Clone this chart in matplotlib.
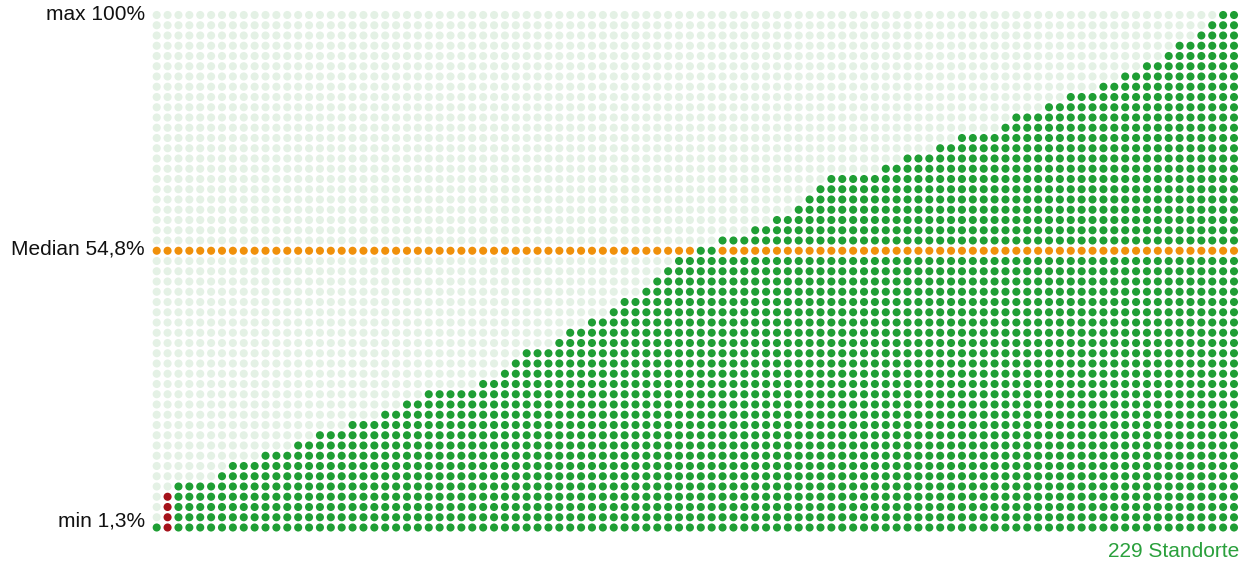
#!/usr/bin/env python3

import matplotlib
matplotlib.use("Agg")
import matplotlib.pyplot as plt

# oberste gefuellte Zeile je Spalte (0 = unterste Zeile, 50 = 100%)
col_tops = [0, 3, 4, 4, 4, 4, 5, 6, 6, 6,
            7, 7, 7, 8, 8, 9, 9, 9, 10, 10,
            10, 11, 11, 12, 12, 13, 13, 13, 13, 13,
            14, 14, 15, 16, 17, 17, 17, 18, 19, 19,
            20, 20, 21, 22, 22, 23, 24, 25, 26, 26,
            27, 27, 28, 28, 28, 29, 29, 30, 30, 31,
            32, 33, 34, 34, 34, 34, 34, 35, 35, 36,
            36, 36, 37, 37, 38, 38, 38, 38, 39, 40,
            40, 40, 41, 41, 42, 42, 42, 43, 43, 44,
            44, 45, 45, 46, 47, 47, 48, 49, 50, 50]
highlight_col = 1
n_rows = 51
median_row = 27

left_labels = ["max 100%", "Median 54,8%", "min 1,3%"]
label_rows = [50, 27.2, 0.6]
count_label = "229 Standorte"

GREEN = "#1f9e34"
LIGHT = "#e4f1e5"
ORANGE = "#f0900a"
RED = "#a5121b"

n_cols = len(col_tops)

W, H = 1239, 564
x0, x1 = 156.7, 1234.0
y0, y1 = 527.5, 15.0
sx = (x1 - x0) / (n_cols - 1)
sy = (y0 - y1) / (n_rows - 1)

fig = plt.figure(figsize=(W / 100, H / 100), dpi=100)
left = (x0 - sx / 2) / W
width = (x1 - x0 + sx) / W
bottom = (H - (y0 + sy / 2)) / H
height = (y0 - y1 + sy) / H
ax = fig.add_axes([left, bottom, width, height])
ax.set_xlim(-0.5, n_cols - 0.5)
ax.set_ylim(-0.5, n_rows - 0.5)
ax.axis("off")

xs, ys, cs = [], [], []
for c, top in enumerate(col_tops):
    for r in range(n_rows):
        if r <= top:
            color = RED if c == highlight_col else GREEN
            if r == median_row and top != median_row:
                color = ORANGE
        else:
            color = ORANGE if r == median_row else LIGHT
        xs.append(c)
        ys.append(r)
        cs.append(color)

ax.scatter(xs, ys, s=34, c=cs, linewidths=0, clip_on=False)

for txt, row in zip(left_labels, label_rows):
    ax.text(-1.1, row, txt, ha="right", va="center", fontsize=15,
            family="Liberation Sans", color="#111111")

ax.text(n_cols - 1 + 0.45, -2.3, count_label, ha="right", va="center",
        fontsize=15, family="Liberation Sans", color="#2aa03c")

fig.savefig("out.png", dpi=100)
